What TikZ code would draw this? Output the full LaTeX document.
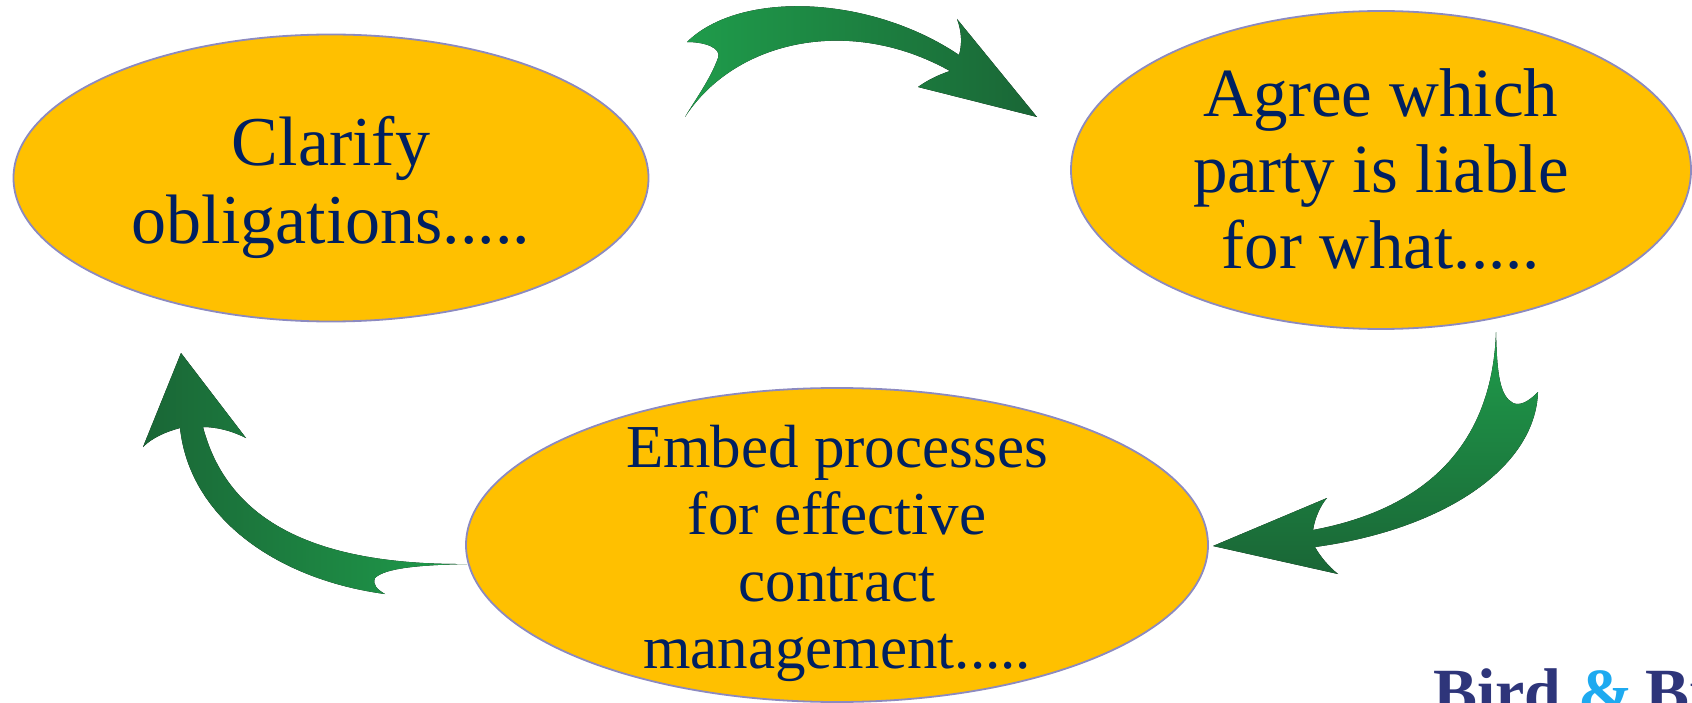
\documentclass[tikz,border=0pt]{standalone}
\usepackage{fontspec}
\setmainfont{Liberation Serif}
\usetikzlibrary{shapes.geometric}
\definecolor{gold}{RGB}{255,192,0}
\definecolor{rim}{RGB}{140,138,192}
\definecolor{navy}{RGB}{0,32,96}
\definecolor{leaf}{RGB}{31,156,75}
\definecolor{moss}{RGB}{26,102,54}
\definecolor{birdnavy}{RGB}{46,53,122}
\definecolor{birdblue}{RGB}{30,170,240}
\begin{document}
\begin{tikzpicture}[x=1pt,y=-1pt,
	blob/.style={ellipse,draw=rim,line width=1.8pt,fill=gold,inner sep=0pt},
	words/.style={align=center,text=navy,inner sep=0pt}]
	\useasboundingbox (0,0) rectangle (1692,703);
	% the three steps
	\node[blob,minimum width=635pt,minimum height=287pt] (clar) at (331,178) {};
	\node[blob,minimum width=620pt,minimum height=318pt] (agree) at (1381,170) {};
	\node[blob,minimum width=742pt,minimum height=314pt] (embed) at (837,545) {};
	\node[words,font=\fontsize{70}{78}\selectfont] (clart) at ([yshift=-9pt]clar.center) {Clarify\\obligations.....};
	\node[words,font=\fontsize{69}{76}\selectfont] (agreet) at ([yshift=1pt]agree.center) {Agree which\\party is liable\\for what.....};
	\node[words,font=\fontsize{61}{67}\selectfont] (embedt) at ([yshift=-8pt]embed.center) {Embed processes\\for effective\\contract\\management.....};
	% curved arrows
	\fill[left color=leaf,right color=moss] (685,117) .. controls (735,40) and (850,15) .. (950,71)
		.. controls (935,76) and (925,82) .. (918,87) -- (1037,117) -- (957,19)
		.. controls (962,32) and (962,45) .. (959,55)
		.. controls (870,-5) and (740,-10) .. (687,42)
		.. controls (705,42) and (722,48) .. (718,58)
		.. controls (710,80) and (695,100) .. (685,117) -- cycle;
	\fill[top color=leaf,bottom color=moss] (1496,332) .. controls (1492,450) and (1420,510) .. (1313,530)
		.. controls (1315,518) and (1320,506) .. (1327,498) -- (1213,546) -- (1338,574)
		.. controls (1328,566) and (1320,556) .. (1315,547)
		.. controls (1440,530) and (1535,470) .. (1538,392)
		.. controls (1528,402) and (1520,406) .. (1513,403)
		.. controls (1500,396) and (1497,375) .. (1496,332) -- cycle;
	\fill[left color=moss,right color=leaf] (181,353) -- (246,438)
		.. controls (230,430) and (215,427) .. (203,427)
		.. controls (230,530) and (330,565) .. (467,564)
		.. controls (420,565) and (385,568) .. (375,578)
		.. controls (372,585) and (378,590) .. (385,594)
		.. controls (280,580) and (190,520) .. (180,428)
		.. controls (165,432) and (152,438) .. (143,447) -- cycle;
	% logo, cut by the page edge
	\node[anchor=base west,inner sep=0pt,text=birdnavy,font=\bfseries\fontsize{66}{66}\selectfont] (logo) at (1433,714) {Bird {\color{birdblue}\&}\kern-4pt\ Bi};
\end{tikzpicture}
\end{document}
